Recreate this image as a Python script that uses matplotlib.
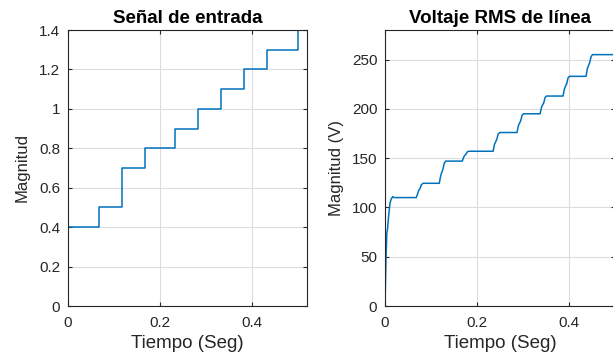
import matplotlib
matplotlib.use("Agg")
import matplotlib.pyplot as plt

plt.rcParams['font.family'] = ['Liberation Sans', 'DejaVu Sans']

# input signal: step levels and switching times (s)
step_times = [0.0, 0.067, 0.117, 0.167, 0.233, 0.283, 0.333, 0.383, 0.433, 0.500, 0.52]
step_levels = [0.4, 0.5, 0.7, 0.8, 0.9, 1.0, 1.1, 1.2, 1.3, 1.4, 1.4]

# line RMS voltage (V) against time (s)
rms_t = [0.000, 0.002, 0.004, 0.0055, 0.008, 0.011, 0.014, 0.017, 0.019,
         0.068, 0.071, 0.073, 0.076, 0.079, 0.083,
         0.118, 0.121, 0.123, 0.126, 0.129, 0.132,
         0.168, 0.171, 0.173, 0.176, 0.179, 0.183,
         0.235, 0.238, 0.240, 0.243, 0.246, 0.250,
         0.287, 0.290, 0.292, 0.295, 0.298, 0.301,
         0.337, 0.340, 0.342, 0.345, 0.348, 0.351,
         0.387, 0.390, 0.392, 0.395, 0.398, 0.401,
         0.437, 0.440, 0.442, 0.445, 0.448, 0.451,
         0.520]
rms_v = [0, 45, 74, 78, 92, 105, 109, 111, 110,
         110, 114, 117, 119, 123, 124.5,
         124.5, 132, 135, 139, 145, 147,
         147, 151, 152.5, 154, 156.5, 157,
         157, 164, 166, 169, 174.5, 176,
         176, 183, 185, 188, 193.5, 195,
         195, 201, 203.5, 206, 211.5, 213,
         213, 220, 222.5, 225.5, 231.5, 233,
         233, 241, 243.5, 247, 253, 255,
         255]

in_yticks = [0, 0.2, 0.4, 0.6, 0.8, 1, 1.2, 1.4]
in_ylabels = ["0", "0.2", "0.4", "0.6", "0.8", "1", "1.2", "1.4"]
xticks = [0, 0.2, 0.4]
xlabels = ["0", "0.2", "0.4"]
rms_yticks = [0, 50, 100, 150, 200, 250]

blue = "#0072BD"
dark = "#262626"

fig = plt.figure(figsize=(6.13, 3.54), dpi=100)
W, H = 613.0, 354.0
ax1 = fig.add_axes([68 / W, 48 / H, 239 / W, 276 / H])
ax2 = fig.add_axes([385 / W, 48 / H, 230 / W, 276 / H])


def style(ax):
    ax.grid(True, color="#dcdcdc", linewidth=0.8)
    ax.set_axisbelow(True)
    ax.tick_params(direction="in", top=True, right=True, length=3,
                   width=0.8, colors=dark, labelsize=11)
    ax.tick_params(axis="x", pad=7)
    ax.tick_params(axis="y", pad=5.5)
    for s in ax.spines.values():
        s.set_color(dark)
        s.set_linewidth(0.8)


ax1.step(step_times, step_levels, where="post", color=blue, linewidth=1.1)
ax1.set_xlim(0, 0.52)
ax1.set_ylim(0, 1.4)
ax1.set_xticks(xticks, xlabels)
ax1.set_yticks(in_yticks, in_ylabels)
style(ax1)
ax1.set_title("Señal de entrada", fontsize=13.5, fontweight="bold", pad=5)
ax1.set_xlabel("Tiempo (Seg)", fontsize=13.5, color=dark, labelpad=4)
ax1.set_ylabel("Magnitud", fontsize=12, color=dark, labelpad=7)

ax2.plot(rms_t, rms_v, color=blue, linewidth=1.1)
ax2.set_xlim(0, 0.5)
ax2.set_ylim(0, 280)
ax2.set_xticks(xticks, xlabels)
ax2.set_yticks(rms_yticks)
style(ax2)
ax2.set_title("Voltaje RMS de línea", fontsize=13.5, fontweight="bold", pad=5)
ax2.set_xlabel("Tiempo (Seg)", fontsize=13.5, color=dark, labelpad=4)
ax2.set_ylabel("Magnitud (V)", fontsize=12, color=dark, labelpad=6)

fig.savefig("out.png", dpi=100)
